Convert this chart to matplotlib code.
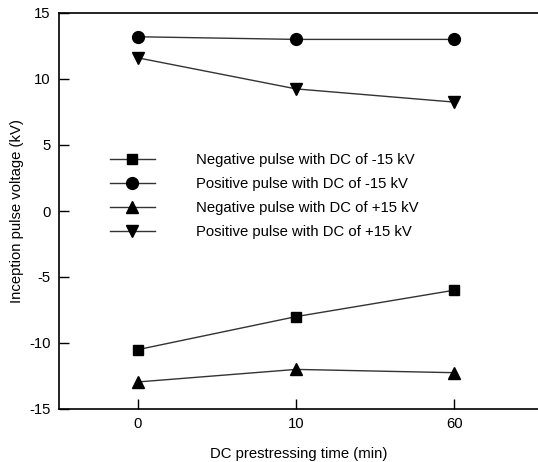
import matplotlib
matplotlib.use("Agg")
import matplotlib.pyplot as plt

plt.rcParams['font.family'] = ['Liberation Sans', 'DejaVu Sans']
plt.rcParams['axes.unicode_minus'] = False

time_labels = ["0", "10", "60"]
neg_pulse_dc_neg = [-10.5, -8.0, -6.0]
pos_pulse_dc_neg = [13.2, 13.0, 13.0]
neg_pulse_dc_pos = [-12.95, -12.0, -12.25]
pos_pulse_dc_pos = [11.6, 9.25, 8.25]

series = [
    ("Negative pulse with DC of -15 kV", neg_pulse_dc_neg, "s", 7.5),
    ("Positive pulse with DC of -15 kV", pos_pulse_dc_neg, "o", 8.5),
    ("Negative pulse with DC of +15 kV", neg_pulse_dc_pos, "^", 9),
    ("Positive pulse with DC of +15 kV", pos_pulse_dc_pos, "v", 9),
]

FS = 10.7
W, H = 538, 462
fig = plt.figure(figsize=(W / 100, H / 100), dpi=100)
ax = fig.add_axes([59 / W, 1 - 409 / H, 1 - 59 / W, (409 - 13) / H])

x = list(range(len(time_labels)))
for label, vals, mk, ms in series:
    ax.plot(x, vals, color="#333333", lw=1.0, marker=mk, markersize=ms,
            markerfacecolor="black", markeredgecolor="black", label=label)

ax.set_xlim(-0.5, 2.53)
ax.set_ylim(-15, 15)
ax.set_xticks(x)
ax.set_xticklabels(time_labels)
ax.set_yticks([-15, -10, -5, 0, 5, 10, 15])
ax.tick_params(direction="in", length=7, width=1, labelsize=FS, colors="black", pad=6)
ax.spines["right"].set_visible(False)
for s in ("left", "bottom", "top"):
    ax.spines[s].set_linewidth(1.2)

ax.set_xlabel("DC prestressing time (min)", fontsize=FS, labelpad=11)
ax.set_ylabel("Inception pulse voltage (kV)", fontsize=FS, labelpad=4)

ax.legend(loc="upper left", bbox_to_anchor=(110 / W, 1 - 153 / H),
          bbox_transform=fig.transFigure, frameon=False, fontsize=FS,
          handlelength=3.0, handletextpad=2.8, labelspacing=0.68,
          borderpad=0, borderaxespad=0)

fig.savefig("out.png", dpi=100)
